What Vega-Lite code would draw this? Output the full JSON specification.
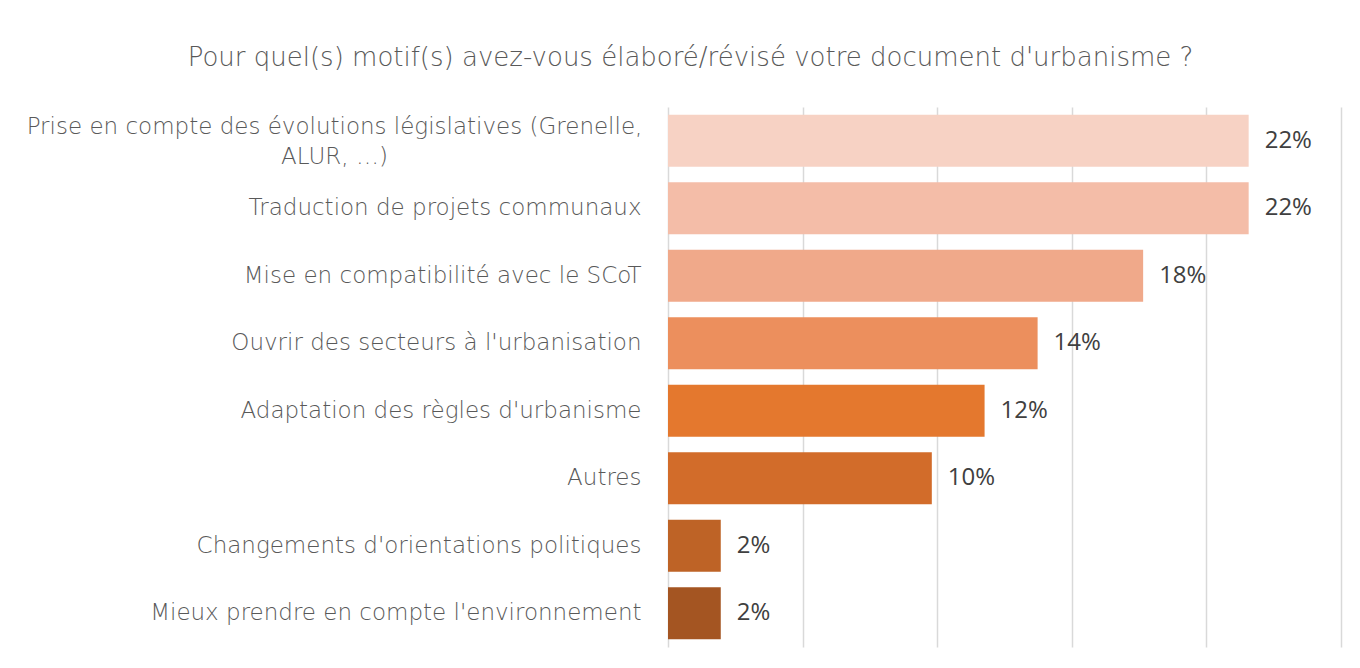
{
  "$schema": "https://vega.github.io/schema/vega-lite/v6.json",
  "autosize": "none",
  "width": 673,
  "height": 540,
  "padding": {"left": 668, "top": 107, "right": 19, "bottom": 21},
  "background": "white",
  "title": {
    "text": "Pour quel(s) motif(s) avez-vous élaboré/révisé votre document d'urbanisme ?",
    "font": "DejaVu Sans",
    "fontWeight": 200,
    "fontSize": 26,
    "color": "#595959",
    "anchor": "middle",
    "dx": -314,
    "offset": 36
  },
  "data": {
    "values": [
      {"motif": "Prise en compte des évolutions législatives (Grenelle, ALUR, …)", "part": 0.2157},
      {"motif": "Traduction de projets communaux", "part": 0.2157},
      {"motif": "Mise en compatibilité avec le SCoT", "part": 0.1765},
      {"motif": "Ouvrir des secteurs à l'urbanisation", "part": 0.1373},
      {"motif": "Adaptation des règles d'urbanisme", "part": 0.1176},
      {"motif": "Autres", "part": 0.098},
      {"motif": "Changements d'orientations politiques", "part": 0.0196},
      {"motif": "Mieux prendre en compte l'environnement", "part": 0.0196}
    ]
  },
  "encoding": {
    "y": {
      "field": "motif",
      "type": "nominal",
      "sort": null,
      "title": null,
      "scale": {"paddingInner": 0.23, "paddingOuter": 0.115},
      "axis": {
        "domain": false,
        "ticks": false,
        "labelFont": "DejaVu Sans",
        "labelFontWeight": 200,
        "labelFontSize": 23,
        "labelColor": "#595959",
        "labelPadding": {"condition": {"test": "indexof(datum.value, 'Grenelle') >= 0", "value": 334}, "value": 27},
        "labelAlign": {"condition": {"test": "indexof(datum.value, 'Grenelle') >= 0", "value": "center"}, "value": "right"},
        "labelOffset": {"condition": {"test": "indexof(datum.value, 'Grenelle') >= 0", "value": -14}, "value": 0},
        "labelLimit": 900,
        "labelLineHeight": 30,
        "labelExpr": "indexof(datum.value, 'Grenelle') >= 0 ? ['Prise en compte des évolutions législatives (Grenelle,', 'ALUR, …)'] : datum.value"
      }
    },
    "x": {
      "field": "part",
      "type": "quantitative",
      "title": null,
      "scale": {"domain": [0, 0.25], "nice": false},
      "axis": {
        "values": [0, 0.05, 0.1, 0.15, 0.2, 0.25],
        "labels": false,
        "ticks": false,
        "domain": false,
        "grid": true,
        "gridColor": "#d9d9d9",
        "gridWidth": 1.5
      }
    }
  },
  "layer": [
    {
      "mark": {"type": "bar"},
      "encoding": {
        "color": {
          "field": "motif",
          "type": "nominal",
          "legend": null,
          "scale": {
            "domain": [
              "Prise en compte des évolutions législatives (Grenelle, ALUR, …)",
              "Traduction de projets communaux",
              "Mise en compatibilité avec le SCoT",
              "Ouvrir des secteurs à l'urbanisation",
              "Adaptation des règles d'urbanisme",
              "Autres",
              "Changements d'orientations politiques",
              "Mieux prendre en compte l'environnement"
            ],
            "range": ["#F7D2C4", "#F4BDA8", "#F0A98A", "#EC8F5D", "#E4782E", "#D26C2A", "#BE6326", "#A45522"]
          }
        }
      }
    },
    {
      "mark": {
        "type": "text",
        "align": "left",
        "baseline": "middle",
        "dx": 16,
        "font": "Open Sans",
        "fontSize": 24,
        "color": "#404040"
      },
      "encoding": {
        "text": {"field": "part", "type": "quantitative", "format": ".0%"}
      }
    }
  ],
  "config": {
    "view": {"stroke": null}
  }
}
